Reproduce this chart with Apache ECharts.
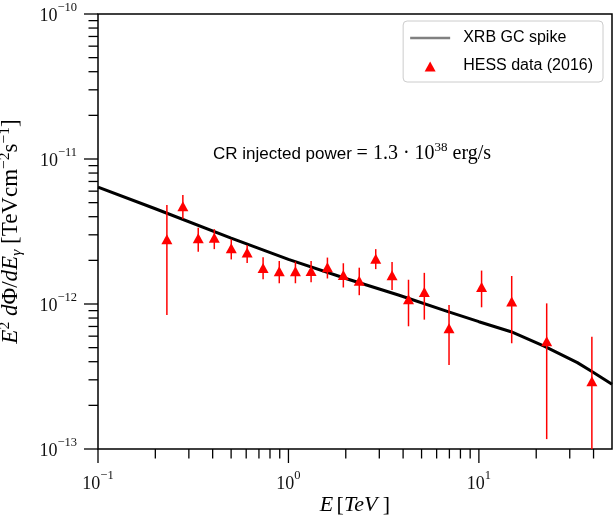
<!DOCTYPE html>
<html><head><meta charset="utf-8">
<script src="https://cdn.jsdelivr.net/npm/echarts@6/dist/echarts.min.js"></script>
<style>html,body{margin:0;padding:0;background:#fff}#c{width:614px;height:516px}</style>
</head><body><div id="c"></div>
<script>
// ---------- data ----------
const xrbE    = [0.1, 0.2, 0.5, 1, 2, 3.78, 6.88, 10, 14.75, 22, 32.9, 39.4, 50];
const xrbFlux = [6.4e-12, 4.54e-12, 2.85e-12, 2.03e-12, 1.50e-12, 1.153e-12, 8.85e-13, 7.55e-13, 6.44e-13, 5.13e-13, 3.94e-13, 3.41e-13, 2.80e-13];

const hessE    = [0.230, 0.279, 0.336, 0.408, 0.501, 0.607, 0.736, 0.895, 1.088, 1.315, 1.602, 1.942, 2.354, 2.873, 3.50, 4.27, 5.17, 6.97, 10.33, 14.87, 22.7, 39.2];
const hessFlux = [2.80e-12, 4.72e-12, 2.84e-12, 2.86e-12, 2.42e-12, 2.27e-12, 1.77e-12, 1.68e-12, 1.68e-12, 1.69e-12, 1.79e-12, 1.585e-12, 1.445e-12, 2.05e-12, 1.58e-12, 1.08e-12, 1.21e-12, 6.80e-13, 1.31e-12, 1.04e-12, 5.53e-13, 2.93e-13];
const hessLo   = [8.40e-13, 3.86e-12, 2.29e-12, 2.39e-12, 2.03e-12, 1.92e-12, 1.48e-12, 1.39e-12, 1.39e-12, 1.41e-12, 1.50e-12, 1.30e-12, 1.15e-12, 1.74e-12, 1.25e-12, 7.02e-13, 7.80e-13, 3.80e-13, 9.49e-13, 5.36e-13, 1.17e-13, 8.0e-14];
const hessHi   = [4.82e-12, 5.65e-12, 3.36e-12, 3.28e-12, 2.79e-12, 2.55e-12, 2.10e-12, 1.98e-12, 1.96e-12, 1.98e-12, 2.09e-12, 1.91e-12, 1.78e-12, 2.39e-12, 1.95e-12, 1.47e-12, 1.64e-12, 9.85e-13, 1.70e-12, 1.56e-12, 1.01e-12, 5.95e-13];

const xMin = 0.1, xMax = 50;
const yMin = 1e-13, yMax = 1e-10;
const xMajorTicks = [0.1, 1, 10];
const xTickLabels = ['\u22121', '0', '1'];
const xMinorTicks = [0.2,0.3,0.4,0.5,0.6,0.7,0.8,0.9, 2,3,4,5,6,7,8,9, 20,30,40];
const yMajorTicks = [1e-13, 1e-12, 1e-11, 1e-10];
const yTickLabels = ['\u221213', '\u221212', '\u221211', '\u221210'];
const yMinorTicks = [2e-13,3e-13,4e-13,5e-13,6e-13,7e-13,8e-13,9e-13,
                     2e-12,3e-12,4e-12,5e-12,6e-12,7e-12,8e-12,9e-12,
                     2e-11,3e-11,4e-11,5e-11,6e-11,7e-11,8e-11,9e-11];

const lineName = 'XRB GC spike';
const dataName = 'HESS data (2016)';

// ---------- styling ----------
const SERIF = 'Liberation Serif';
const SANS = 'Liberation Sans';

function powLabel(v, ticks, labels) {
  for (let i = 0; i < ticks.length; i++) {
    if (Math.abs(Math.log10(v) - Math.log10(ticks[i])) < 1e-6) return '{b|10}{s|' + labels[i] + '}';
  }
  return '';
}
// base token and superscript token share the same total height so their placement is fixed by padding
const tickRich = {
  b: {fontFamily: SERIF, fontSize: 18, lineHeight: 16, padding: [6, 0, 0, 0], color: '#111'},
  s: {fontFamily: SERIF, fontSize: 12.5, lineHeight: 12, padding: [0, 0, 10, 0], color: '#111'}
};

function tickSeries(data, axis, len) {
  return {
    type: 'custom', silent: true, z: 6, clip: false, data: data,
    renderItem: function (params, api) {
      const p = api.coord([api.value(0), api.value(1)]);
      const shape = axis === 'x'
        ? {x1: p[0], y1: p[1], x2: p[0], y2: p[1] + len}
        : {x1: p[0], y1: p[1], x2: p[0] - len, y2: p[1]};
      return {type: 'line', shape: shape, style: {stroke: '#000', lineWidth: 1.3}};
    }
  };
}

const chart = echarts.init(document.getElementById('c'), null, {renderer: 'canvas'});
chart.setOption({
  animation: false,
  backgroundColor: '#fff',
  title: {
    text: '{s|CR injected power }{m|= 1.3 \u00b7 10}{p|38}{m| erg/s}',
    left: 213, top: 144, padding: 0,
    textStyle: {fontWeight: 'normal', rich: {
      s: {fontFamily: SANS, fontSize: 17, fontWeight: 'normal', lineHeight: 16, padding: [4, 0, 0, 0], color: '#000'},
      m: {fontFamily: SERIF, fontSize: 20, fontWeight: 'normal', lineHeight: 16, padding: [4, 0, 0, 0], color: '#000'},
      p: {fontFamily: SERIF, fontSize: 13, fontWeight: 'normal', lineHeight: 12, padding: [0, 0, 8, 0], color: '#000'}
    }}
  },
  grid: {left: 98, right: 2, top: 14, bottom: 67, show: true, containLabel: false, outerBoundsMode: 'none',
         borderColor: '#000', borderWidth: 1.5, backgroundColor: 'transparent'},
  legend: {
    orient: 'vertical', right: 11, top: 21,
    itemWidth: 40, itemHeight: 12, itemGap: 12,
    padding: [9, 10, 8, 7],
    borderColor: '#cccccc', borderWidth: 1, borderRadius: 4,
    textStyle: {fontFamily: SANS, fontSize: 16, color: '#000', padding: [0, 0, 0, 8]},
    data: [
      {name: lineName, icon: 'path://M0,0 L40,0 L40,2.6 L0,2.6 Z', itemStyle: {color: '#808080'}},
      {name: dataName, icon: 'path://M0,0 M40,12 M14.5,11.5 L20,1.5 L25.5,11.5 Z', itemStyle: {color: '#ff0000'}}
    ]
  },
  xAxis: {
    type: 'log', logBase: 10, min: xMin, max: xMax,
    axisLine: {show: false}, axisTick: {show: false}, splitLine: {show: false}, minorTick: {show: false},
    axisLabel: {margin: 24, formatter: v => powLabel(v, xMajorTicks, xTickLabels), rich: tickRich},
    name: '{i|E} {r|[}{i|TeV }{r|]}', nameLocation: 'middle', nameGap: 45, nameMoveOverlap: false,
    nameTextStyle: {rich: {
      i: {fontFamily: SERIF, fontStyle: 'italic', fontSize: 22, color: '#000'},
      r: {fontFamily: SERIF, fontSize: 22, color: '#000'}
    }}
  },
  yAxis: {
    type: 'log', logBase: 10, min: yMin, max: yMax,
    axisLine: {show: false}, axisTick: {show: false}, splitLine: {show: false}, minorTick: {show: false},
    axisLabel: {margin: 21, padding: [0, 0, 2, 0], formatter: v => powLabel(v, yMajorTicks, yTickLabels), rich: tickRich},
    name: '{i|E}{sup|2}{i| d}{r|\u03a6/}{i|dE}{sub|\u03b3}{r| [TeVcm}{sup|\u22122}{r|s}{sup|\u22121}{r|]}',
    nameLocation: 'middle', nameGap: 55, nameRotate: 90,
    nameTextStyle: {rich: {
      i: {fontFamily: SERIF, fontStyle: 'italic', fontSize: 23, lineHeight: 22, padding: [6, 0, 6, 0], color: '#000'},
      r: {fontFamily: SERIF, fontSize: 23, lineHeight: 22, padding: [6, 0, 6, 0], color: '#000'},
      sup: {fontFamily: SERIF, fontSize: 15.5, lineHeight: 14, padding: [4, 0, 16, 0], color: '#000'},
      sub: {fontFamily: SERIF, fontStyle: 'italic', fontSize: 15.5, lineHeight: 14, padding: [16, 0, 4, 0], color: '#000'}
    }}
  },
  series: [
    {
      name: lineName, type: 'line', data: xrbE.map((e, i) => [e, xrbFlux[i]]),
      symbol: 'none', lineStyle: {color: '#000', width: 3}, z: 2, clip: true
    },
    {
      name: 'errbars', type: 'custom', z: 3, clip: true, silent: true,
      data: hessE.map((e, i) => [e, hessLo[i], hessHi[i]]),
      encode: {x: 0, y: [1, 2]},
      renderItem: function (params, api) {
        const a = api.coord([api.value(0), api.value(1)]);
        const b = api.coord([api.value(0), api.value(2)]);
        return {type: 'line', shape: {x1: a[0], y1: a[1], x2: b[0], y2: b[1]}, style: {stroke: '#ff0000', lineWidth: 1.5}};
      }
    },
    {
      name: dataName, type: 'scatter', data: hessE.map((e, i) => [e, hessFlux[i]]),
      symbol: 'triangle', symbolSize: [11, 10], itemStyle: {color: '#ff0000', opacity: 1}, z: 4
    },
    tickSeries(xMajorTicks.map(v => [v, yMin]), 'x', 14),
    tickSeries(xMinorTicks.map(v => [v, yMin]), 'x', 9.5),
    tickSeries(yMajorTicks.map(v => [xMin, v]), 'y', 14),
    tickSeries(yMinorTicks.map(v => [xMin, v]), 'y', 9.5)
  ]
});
</script></body></html>
